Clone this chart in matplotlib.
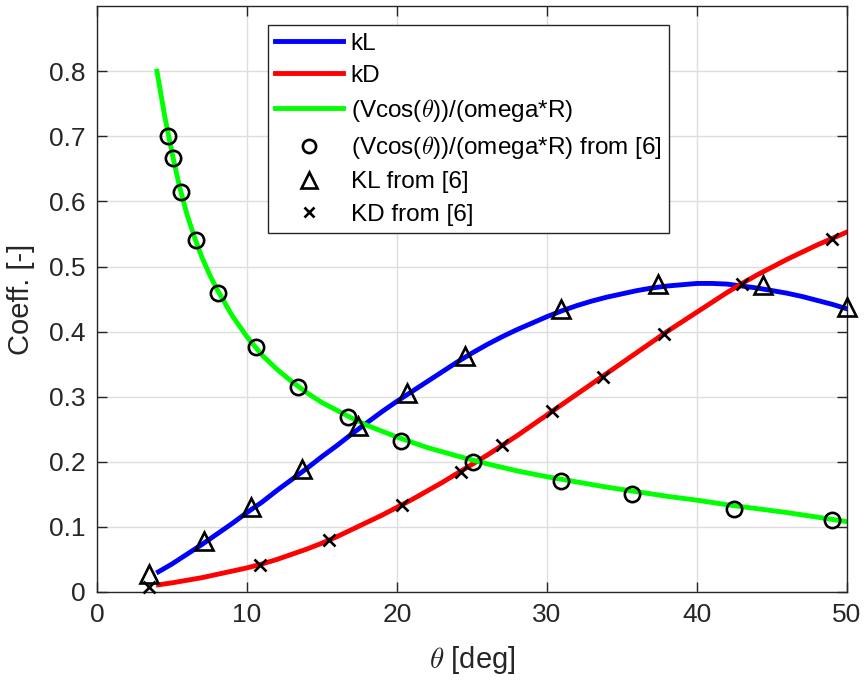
import matplotlib
matplotlib.use("Agg")
from matplotlib import pyplot as plt
from matplotlib.lines import Line2D

plt.rcParams['font.family'] = ['Liberation Sans', 'DejaVu Sans']
plt.rcParams['mathtext.fontset'] = 'cm'

# model curves
theta_kl = [4.1, 5, 6, 7, 8, 9, 10, 11, 12, 13, 14, 15, 16, 17, 18, 19, 20, 21, 22, 23, 24,
            25, 26, 27, 28, 29, 30, 31, 32, 33, 34, 35, 36, 37, 38, 39, 40, 41, 42, 43, 44,
            45, 46, 47, 48, 49, 50]
kl = [0.031, 0.043, 0.058, 0.073, 0.089, 0.105, 0.122, 0.138, 0.156, 0.173, 0.190, 0.208,
      0.225, 0.243, 0.260, 0.277, 0.293, 0.308, 0.323, 0.338, 0.353, 0.367, 0.380, 0.392,
      0.403, 0.413, 0.423, 0.432, 0.440, 0.447, 0.453, 0.458, 0.463, 0.467, 0.470, 0.472,
      0.474, 0.474, 0.473, 0.470, 0.467, 0.463, 0.459, 0.454, 0.448, 0.442, 0.435]

theta_kd = [4.1, 5, 6, 7, 8, 9, 10, 11, 12, 13, 14, 15, 16, 17, 18, 19, 20, 21, 22, 23, 24,
            25, 26, 27, 28, 29, 30, 31, 32, 33, 34, 35, 36, 37, 38, 39, 40, 41, 42, 43, 44,
            45, 46, 47, 48, 49, 50]
kd = [0.011, 0.014, 0.018, 0.022, 0.027, 0.032, 0.037, 0.043, 0.050, 0.058, 0.066, 0.075,
      0.085, 0.096, 0.107, 0.118, 0.130, 0.142, 0.155, 0.168, 0.182, 0.196, 0.210, 0.225,
      0.240, 0.256, 0.272, 0.288, 0.304, 0.320, 0.336, 0.352, 0.368, 0.384, 0.400, 0.415,
      0.430, 0.445, 0.460, 0.474, 0.487, 0.499, 0.511, 0.522, 0.533, 0.543, 0.553]

theta_v = [4, 4.5, 5, 5.5, 6, 6.5, 7, 7.5, 8, 9, 10, 11, 12, 13, 14, 15, 16, 17, 18, 19, 20,
           22, 24, 26, 28, 30, 32, 34, 36, 38, 40, 42, 44, 46, 48, 50]
vratio = [0.800, 0.733, 0.675, 0.623, 0.580, 0.545, 0.514, 0.488, 0.465, 0.425, 0.392,
          0.364, 0.342, 0.323, 0.306, 0.291, 0.279, 0.267, 0.256, 0.247, 0.238, 0.222,
          0.209, 0.197, 0.186, 0.177, 0.169, 0.161, 0.154, 0.147, 0.141, 0.134, 0.128,
          0.122, 0.115, 0.108]

# reference data [6]
ref_v_theta = [4.75, 5.07, 5.57, 6.58, 8.09, 10.58, 13.42, 16.76, 20.25, 25.09, 30.91,
               35.67, 42.49, 49.0]
ref_v = [0.700, 0.667, 0.615, 0.540, 0.460, 0.376, 0.315, 0.269, 0.232, 0.199, 0.170,
         0.151, 0.128, 0.111]

ref_kl_theta = [3.49, 7.13, 10.24, 13.69, 17.42, 20.69, 24.53, 30.93, 37.42, 44.42, 50.0]
ref_kl = [0.028, 0.078, 0.130, 0.189, 0.255, 0.306, 0.363, 0.435, 0.473, 0.471, 0.438]

ref_kd_theta = [3.49, 10.87, 15.49, 20.33, 24.27, 27.02, 30.31, 33.71, 37.8, 42.98, 49.02]
ref_kd = [0.007, 0.042, 0.080, 0.133, 0.185, 0.226, 0.278, 0.331, 0.396, 0.473, 0.543]

lbl_v = r'(Vcos($\theta$))/(omega*R)'

fig = plt.figure(figsize=(8.65, 6.82), dpi=100)
ax = fig.add_axes([0.1121, 0.132, 0.8671, 0.859])

ax.plot(theta_kl, kl, color='#0000ff', lw=3.5)
ax.plot(theta_kd, kd, color='#ff0000', lw=3.5)
ax.plot(theta_v, vratio, color='#00ff00', lw=3.5)

mk = dict(linestyle='none', color='black', markerfacecolor='none', zorder=5)
ax.plot(ref_v_theta, ref_v, marker='o', markersize=11, markeredgewidth=1.9, **mk)
ax.plot(ref_kl_theta, ref_kl, marker='^', markersize=12.5, markeredgewidth=1.9, clip_on=False, **mk)
ax.plot(ref_kd_theta, ref_kd, marker='x', markersize=8.5, markeredgewidth=1.9, clip_on=False, **mk)

ax.set_xlim(0, 50)
ax.set_ylim(0, 0.9)
ax.set_xticks([0, 10, 20, 30, 40, 50])
ax.set_yticks([0, 0.1, 0.2, 0.3, 0.4, 0.5, 0.6, 0.7, 0.8])
ax.set_yticklabels(['0', '0.1', '0.2', '0.3', '0.4', '0.5', '0.6', '0.7', '0.8'])
ax.grid(True, color='#dedede', lw=1)
ax.set_axisbelow(True)
ax.tick_params(direction='in', top=True, right=True, length=7, width=1,
               labelsize=19, colors='#262626', pad=8)
for s in ax.spines.values():
    s.set_color('#262626')
    s.set_linewidth(1)

ax.set_xlabel(r'$\theta$ [deg]', fontsize=21, color='#262626', labelpad=12)
ax.set_ylabel('Coeff. [-]', fontsize=21, color='#262626', labelpad=10)

handles = [
    Line2D([], [], color='#0000ff', lw=3.5),
    Line2D([], [], color='#ff0000', lw=3.5),
    Line2D([], [], color='#00ff00', lw=3.5),
    Line2D([], [], ls='none', marker='o', color='black', mfc='none', ms=9.5, mew=1.9),
    Line2D([], [], ls='none', marker='^', color='black', mfc='none', ms=11, mew=1.9),
    Line2D([], [], ls='none', marker='x', color='black', ms=7, mew=1.9),
]
labels = ['kL', 'kD', lbl_v, lbl_v + ' from [6]', 'KL from [6]', 'KD from [6]']
leg = ax.legend(handles, labels, loc='upper left', bbox_to_anchor=(0.31, 0.963),
                bbox_transform=fig.transFigure, fontsize=17.5, frameon=True, fancybox=False,
                edgecolor='#262626', framealpha=1, handlelength=2.8, handletextpad=0.3,
                labelspacing=0.42, borderpad=0.3, borderaxespad=0)
leg.get_frame().set_linewidth(1)

fig.savefig('out.png', dpi=100)
